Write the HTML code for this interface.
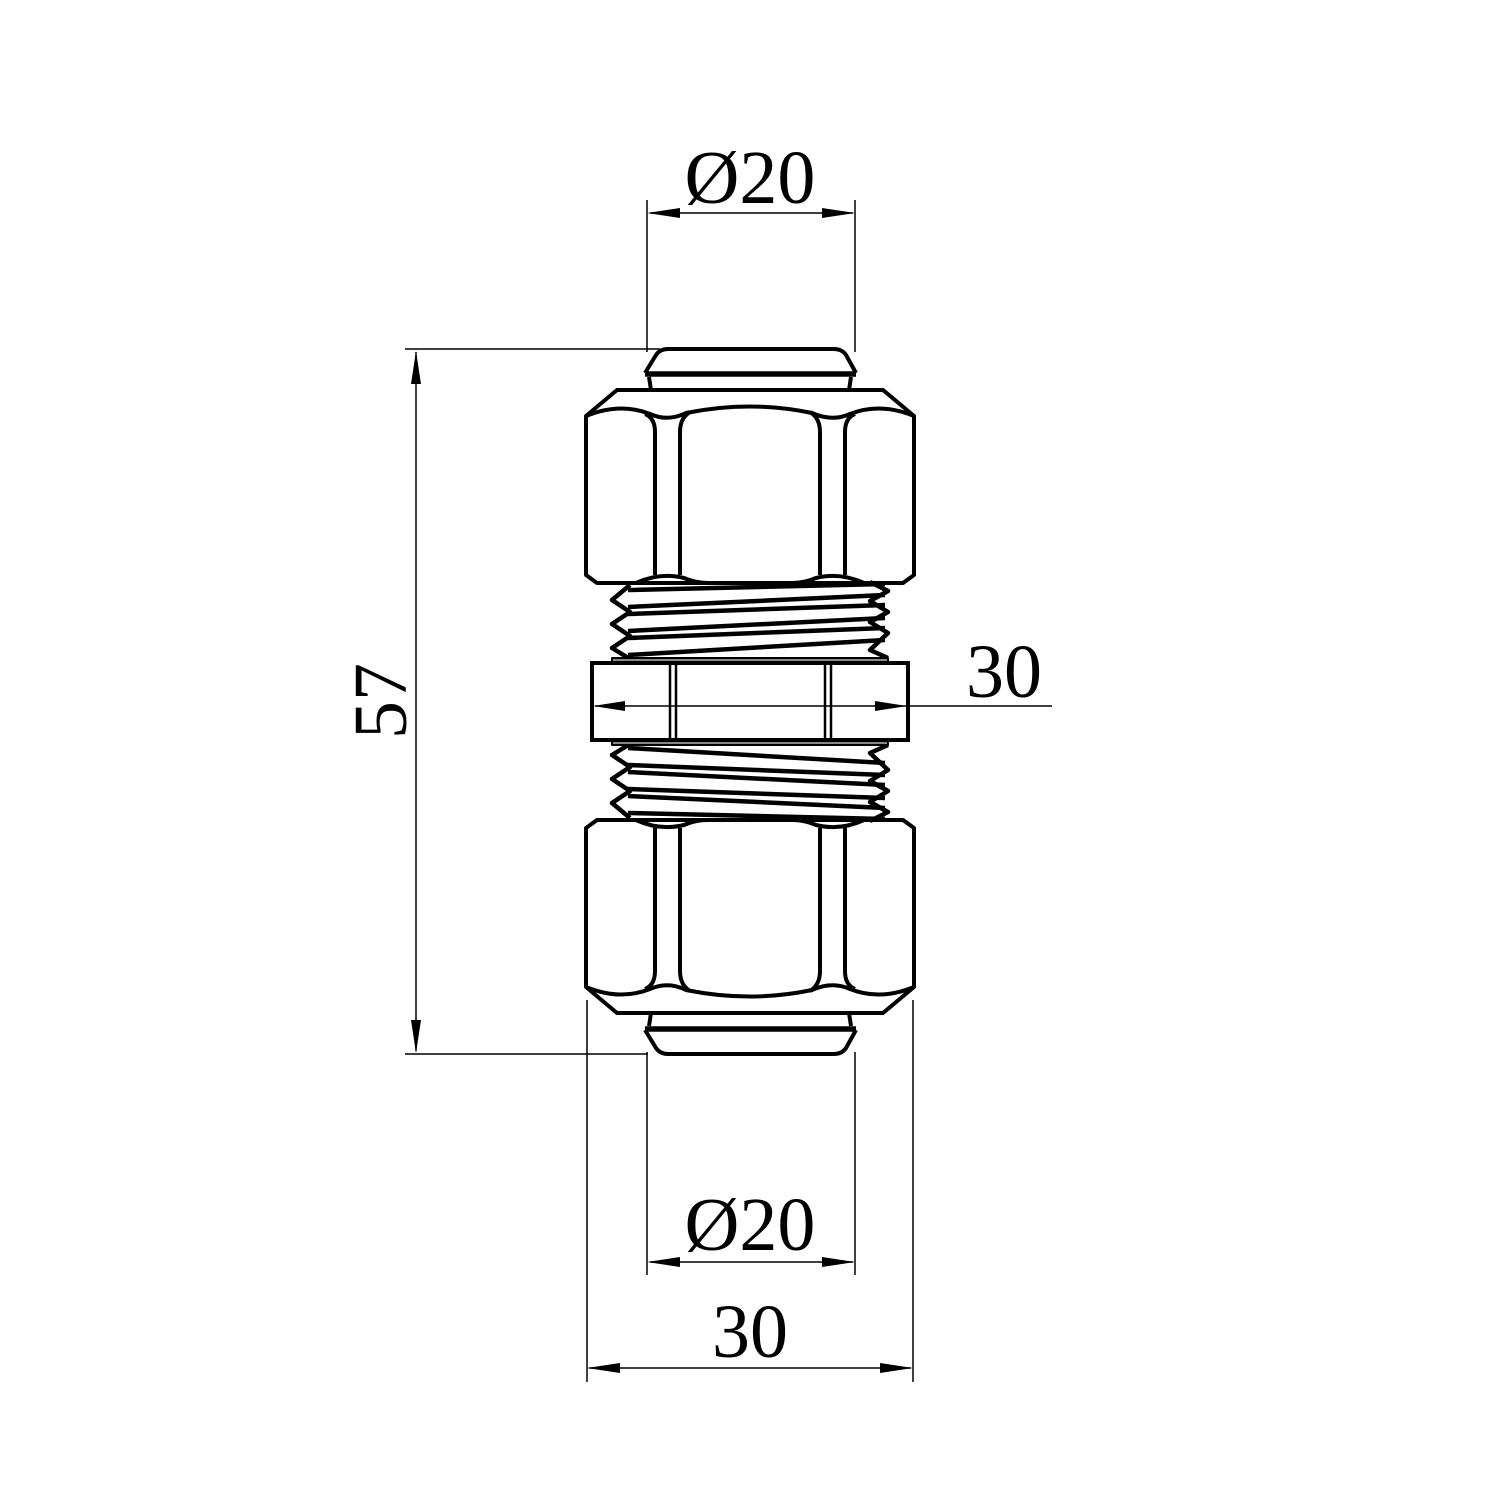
<!DOCTYPE html>
<html><head><meta charset="utf-8"><style>html,body{margin:0;padding:0;background:#fff}svg{display:block}</style></head><body>
<svg width="1500" height="1500" viewBox="0 0 1500 1500" xmlns="http://www.w3.org/2000/svg">
<defs>
<g id="half" fill="none" stroke="#000" stroke-width="4" stroke-linejoin="round">
  <path d="M645,373 L656,355 Q660,349 668,349 L834,349 Q842,349 846,355 L856,373" fill="#fff"/>
  <path d="M645,374 L856,374" stroke-width="5.5"/>
  <path d="M649,377 L651,390 M851,377 L849,390"/>
  <path d="M617,390 L883,390 L914,416 L914,575 L903,583 L597,583 L586,575 L586,416 Z" fill="#fff"/>
  <path d="M586,416 Q620,402 650,414 Q668,422 686,413 Q750,400 812,413 Q832,422 850,414 Q880,402 914,416"/>
  <path d="M655,575 L655,432 Q655,418 645,414 M680,575 L680,432 Q680,418 690,412"/>
  <path d="M820,575 L820,432 Q820,418 810,412 M845,575 L845,432 Q845,418 855,414"/>
  <path d="M636,583 Q660,572 684,578 Q695,583 708,583 M792,583 Q805,583 816,578 Q840,572 864,583"/>
  <path d="M630,585 L612,600 L630,612 L612,624 L630,636 L612,648 L630,659" stroke-width="4.5"/>
  <path d="M870,582 L888,591 L870,601 L888,612 L870,622 L888,633 L870,650 L888,658" stroke-width="4.5"/>
  <path d="M628,590 L885,584 M628,607 L885,595 M628,614 L885,605 M628,631 L885,618 M628,638 L885,628 M628,655 L885,640" stroke-width="4.5"/>
  <rect x="612" y="658" width="276" height="5" fill="#888" stroke-width="2"/>
</g>
</defs>
<use href="#half"/>
<use href="#half" transform="translate(0,1403) scale(1,-1)"/>
<g fill="none" stroke="#000" stroke-width="4">
  <rect x="592" y="663" width="316" height="77" fill="#fff"/>
  <path d="M670,663 V740 M676,663 V740 M825,663 V740 M831,663 V740" stroke-width="2.5"/>
</g>
<g stroke="#000" stroke-width="1.5" fill="none">
  <path d="M647,200 V352 M855,200 V352 M650,213 H853"/>
  <path d="M405,349 H660 M405,1054 H648 M416,352 V1051"/>
  <path d="M595,706 H1052"/>
  <path d="M647,1052 V1275 M855,1052 V1275 M650,1262 H853"/>
  <path d="M587,1000 V1382 M913,1000 V1382 M589,1368 H911"/>
</g>
<g fill="#000">
  <polygon points="647,213 680,208 680,218"/><polygon points="855,213 822,208 822,218"/>
  <polygon points="416,351 411,384 421,384"/><polygon points="416,1053 411,1020 421,1020"/>
  <polygon points="593,706 625,701 625,711"/><polygon points="907,706 875,701 875,711"/>
  <polygon points="647,1262 680,1257 680,1267"/><polygon points="855,1262 822,1257 822,1267"/>
  <polygon points="587,1368 620,1363 620,1373"/><polygon points="913,1368 880,1363 880,1373"/>
</g>
<g font-family="Liberation Serif, serif" font-size="76" fill="#000" text-anchor="middle">
  <text x="750" y="203">Ø20</text>
  <text x="750" y="1250">Ø20</text>
  <text x="750" y="1357">30</text>
  <text x="1004" y="697">30</text>
  <text x="0" y="0" transform="translate(406,701) rotate(-90)">57</text>
</g>
</svg>
</body></html>
